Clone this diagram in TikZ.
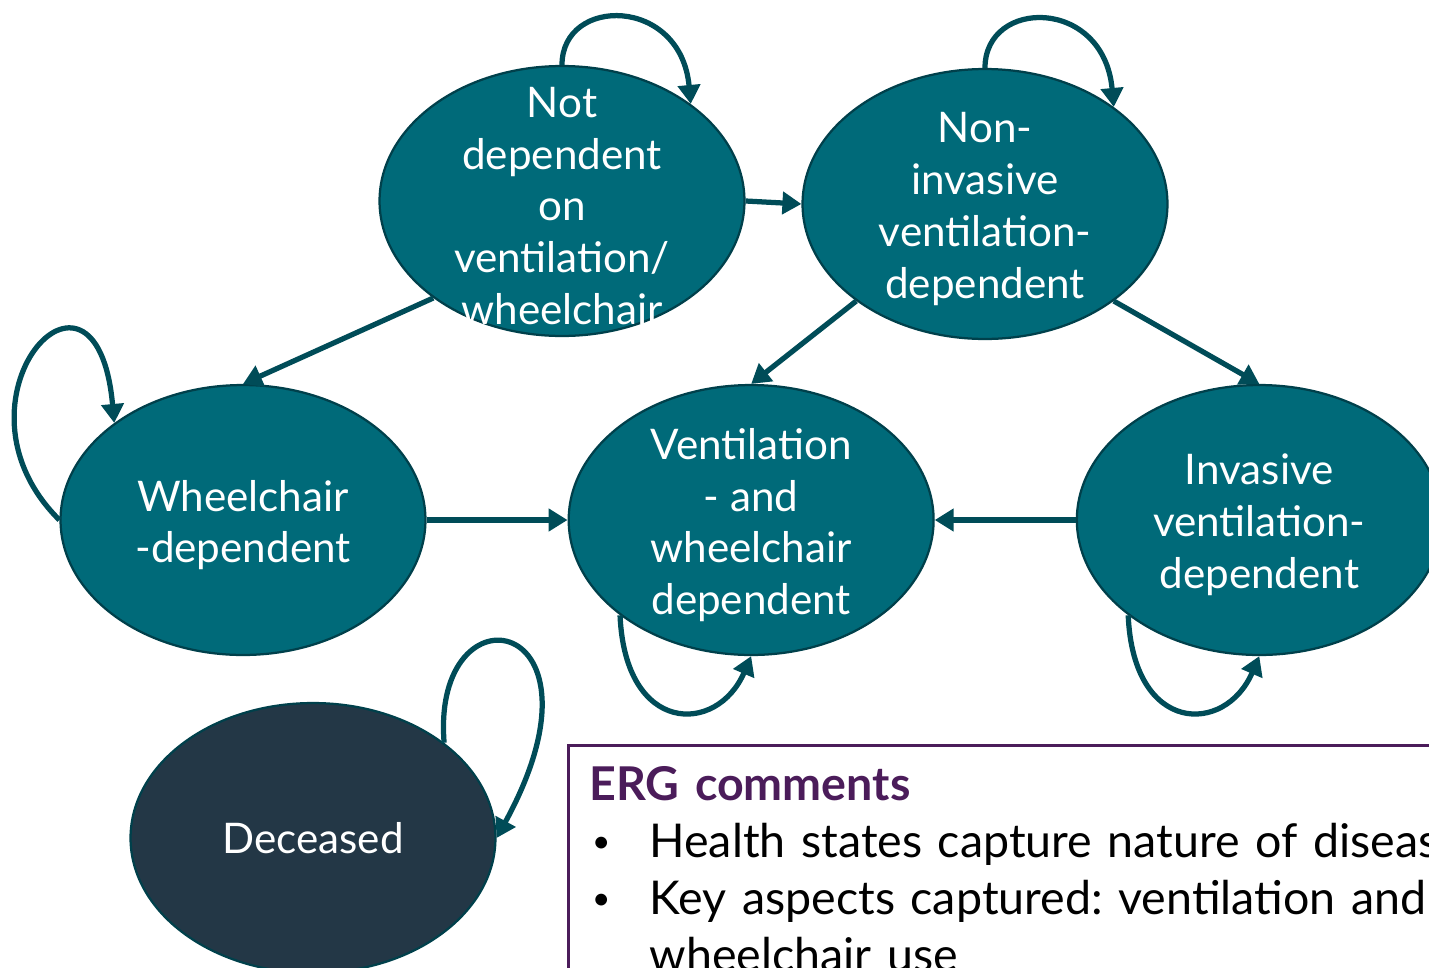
\documentclass[tikz,border=0pt]{standalone}
\usepackage{fontspec}
\setmainfont{Lato}
\usetikzlibrary{shapes.geometric,arrows.meta,positioning}
\definecolor{stateteal}{HTML}{006A79}
\definecolor{stateedge}{HTML}{00404B}
\definecolor{arrowteal}{HTML}{004C58}
\definecolor{deadnavy}{HTML}{233746}
\definecolor{ergpurple}{HTML}{4B1C5A}

\begin{document}
\begin{tikzpicture}[x=0.02cm, y=0.02cm,
	state/.style={ellipse, draw=stateedge, line width=0.045cm, fill=stateteal,
		minimum width=7.3cm, minimum height=5.4cm, inner sep=0pt},
	statetext/.style={text=white, align=center, yshift=-0.1cm,
		font=\fontsize{24}{29.5}\selectfont},
	trans/.style={draw=arrowteal, line width=0.105cm,
		-{Triangle[length=0.38cm, width=0.44cm]}},
	ergnote/.style={draw=ergpurple, line width=0.06cm, anchor=north west,
		inner xsep=0.42cm, inner ysep=0.42cm, text width=20cm, align=left,
		font=\fontsize{26.5}{32.5}\selectfont\frenchspacing}
]
\def\bul{\makebox[1.2cm][l]{\hspace{0.05cm}\raisebox{3pt}{\fontsize{18}{18}\selectfont\textbullet}}}
\useasboundingbox (0,0) rectangle (1429,-967);
\clip (0,0) rectangle (1429,-967);

% health states
\node[state, label={[statetext]center:Not\\dependent\\on\\ventilation/\\wheelchair}] (notdep) at (562,-201) {};
\node[state, label={[statetext]center:Non-\\invasive\\ventilation-\\dependent}] (noninv) at (985,-204) {};
\node[state, label={[statetext]center:Wheelchair\\-dependent}] (wheel) at (243,-520) {};
\node[state, right=2.82cm of wheel, label={[statetext]center:Ventilation\\- and\\wheelchair\\dependent}] (ventwheel) {};
\node[state, right=2.82cm of ventwheel, label={[statetext]center:Invasive\\ventilation-\\dependent}] (inv) {};
\node[state, fill=deadnavy, label={[statetext, yshift=0.1cm]center:Deceased}] (dead) at (313,-838) {};

% transitions
\draw[trans] (notdep.east) -- (noninv.west);
\draw[trans] (notdep.217) -- (wheel.north);
\draw[trans] (noninv.217) -- (ventwheel.north);
\draw[trans] (noninv.323) -- (inv.north);
\draw[trans] (wheel.east) -- (ventwheel.west);
\draw[trans] (inv.west) -- (ventwheel.east);

% staying in the same state
\draw[trans] (notdep.north) .. controls +(0,69) and +(-10,108) .. (notdep.37);
\draw[trans] (noninv.north) .. controls +(0,70) and +(-10,110) .. (noninv.37);
\draw[trans] (wheel.west) .. controls +(-121,120) and +(-18,198) .. (wheel.143);
\draw[trans] (ventwheel.216) .. controls +(5,-120) and +(-34,-79) .. (ventwheel.south);
\draw[trans] (inv.216) .. controls +(5,-120) and +(-34,-79) .. (inv.south);
\draw[trans] (dead.36) .. controls +(-13,162) and +(123,225) .. (dead.east);

% comments box
\node[ergnote] (erg) at (567,-744) {{\bfseries\color{ergpurple}ERG comments}\\
\bul Health states capture nature of disease\\
\bul Key aspects captured: ventilation and\\
\hspace*{1.2cm}wheelchair use};
\end{tikzpicture}
\end{document}
